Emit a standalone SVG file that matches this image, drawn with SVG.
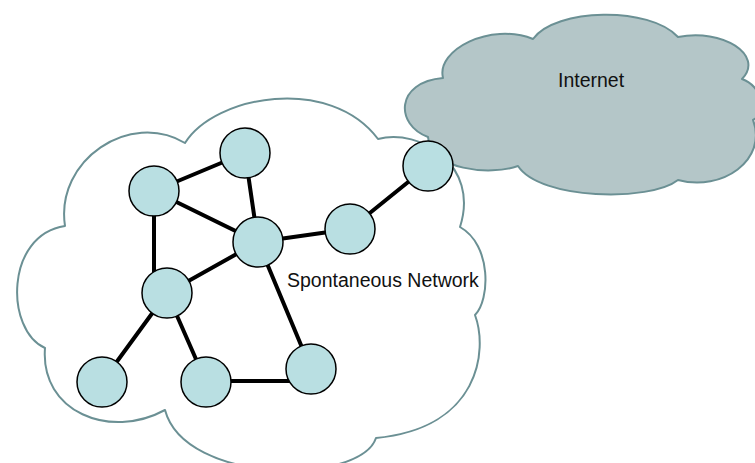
<svg xmlns="http://www.w3.org/2000/svg" width="755" height="463" viewBox="0 0 755 463">
<style>
.cloud{stroke:#6b9094;stroke-width:2;stroke-linejoin:round}
.edge{stroke:#000;stroke-width:4;stroke-linecap:round}
.node{fill:#b9dfe2;stroke:#000;stroke-width:1.5}
.lbl{font-family:"Liberation Sans",Arial,Helvetica,sans-serif;font-size:19.5px;fill:#111}
</style>
<rect width="755" height="463" fill="#fff"/>
<g id="spontaneous-cloud">
<path class="cloud" fill="#fff" d="M185 143 C215 95 330 75 378 139 C420 128 480 165 460 227 C492 245 490 300 475 315 C488 350 480 428 376 438 C360 485 185 485 165 410 C110 440 40 412 45 348 C5 330 5 235 65 226 C55 160 130 110 185 143 Z"/>
<text class="lbl" x="287" y="287">Spontaneous Network</text>
</g>
<g id="internet-cloud">
<path class="cloud" fill="#b4c6c8" d="M443 78 C436 50 490 22 533 39 C555 8 650 6 678 37 C722 28 765 55 742 79 C762 86 768 112 753 120 C768 160 722 192 678 180 C650 202 540 200 518 166 C490 176 430 170 428 137 C395 125 395 82 443 78 Z"/>
<text class="lbl" x="558" y="87">Internet</text>
</g>
<g id="connectors">
<line class="edge" x1="154" y1="191" x2="245" y2="153"/>
<line class="edge" x1="245" y1="153" x2="258" y2="242"/>
<line class="edge" x1="154" y1="191" x2="258" y2="242"/>
<line class="edge" x1="154" y1="191" x2="154" y2="293"/>
<line class="edge" x1="167" y1="293" x2="258" y2="242"/>
<line class="edge" x1="258" y1="242" x2="350" y2="229"/>
<line class="edge" x1="350" y1="229" x2="428" y2="166"/>
<line class="edge" x1="258" y1="242" x2="311" y2="369"/>
<line class="edge" x1="167" y1="293" x2="102" y2="382"/>
<line class="edge" x1="167" y1="293" x2="206" y2="382"/>
<line class="edge" x1="206" y1="381" x2="311" y2="381"/>
</g>
<g id="node-a"><circle class="node" cx="245" cy="153" r="25"/></g>
<g id="node-b"><circle class="node" cx="154" cy="191" r="25"/></g>
<g id="node-c"><circle class="node" cx="258" cy="242" r="25"/></g>
<g id="node-d"><circle class="node" cx="350" cy="229" r="25"/></g>
<g id="node-e"><circle class="node" cx="428" cy="166" r="25"/></g>
<g id="node-f"><circle class="node" cx="167" cy="293" r="25"/></g>
<g id="node-g"><circle class="node" cx="102" cy="382" r="25"/></g>
<g id="node-h"><circle class="node" cx="206" cy="382" r="25"/></g>
<g id="node-i"><circle class="node" cx="311" cy="369" r="25"/></g>
</svg>
